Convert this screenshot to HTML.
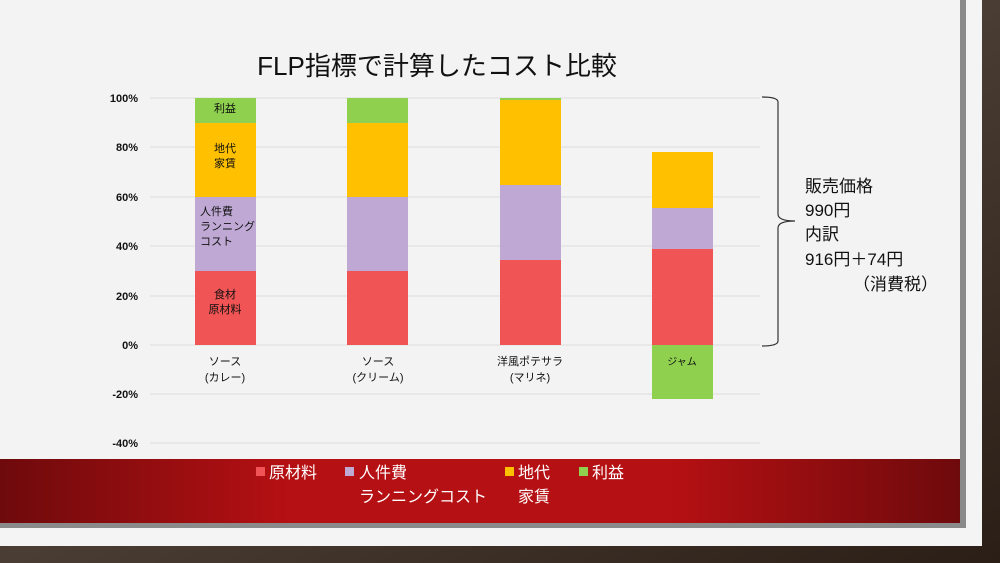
<!DOCTYPE html>
<html><head><meta charset="utf-8"><style>
html,body{margin:0;padding:0;width:1000px;height:563px;overflow:hidden;background:#3a2a22}
body{font-family:"Liberation Sans","Noto Sans CJK JP",sans-serif}
</style></head><body>
<svg width="1000" height="563" xmlns="http://www.w3.org/2000/svg" font-family="Liberation Sans, Noto Sans CJK JP, sans-serif">
<defs>
<linearGradient id="red" x1="0" x2="1"><stop offset="0" stop-color="#6e0a0c"/><stop offset="0.3" stop-color="#b51013"/><stop offset="0.7" stop-color="#b51013"/><stop offset="1" stop-color="#6e0a0c"/></linearGradient>
<linearGradient id="brick" x1="0" y1="0" x2="1" y2="1"><stop offset="0" stop-color="#2a1e18"/><stop offset="0.5" stop-color="#4a3e34"/><stop offset="1" stop-color="#2a1e16"/></linearGradient>
</defs>
<rect width="1000" height="563" fill="url(#brick)"/>
<rect x="0" y="0" width="982" height="546" fill="#f4f4f4"/>
<rect x="0" y="0" width="966" height="528" fill="#8a8a8a"/>
<rect x="0" y="0" width="960" height="523" fill="#f3f3f3"/>
<rect x="0" y="459" width="960" height="64" fill="url(#red)"/>
<text x="437" y="75" font-size="26" text-anchor="middle" fill="#111">FLP指標で計算したコスト比較</text>
<g stroke="#dcdcdc" stroke-width="1">
<line x1="150" x2="760" y1="98" y2="98"/><line x1="150" x2="760" y1="147" y2="147"/><line x1="150" x2="760" y1="197" y2="197"/><line x1="150" x2="760" y1="246" y2="246"/><line x1="150" x2="760" y1="296" y2="296"/><line x1="150" x2="760" y1="345" y2="345"/><line x1="150" x2="760" y1="394" y2="394"/><line x1="150" x2="760" y1="443" y2="443"/>
</g>
<g font-size="11" font-weight="bold" text-anchor="end" fill="#111">
<text x="138" y="102">100%</text><text x="138" y="151">80%</text><text x="138" y="201">60%</text><text x="138" y="250">40%</text><text x="138" y="300">20%</text><text x="138" y="349">0%</text><text x="138" y="398">-20%</text><text x="138" y="447">-40%</text>
</g>
<rect x="195" y="271" width="61" height="74" fill="#f15454"/>
<rect x="195" y="197" width="61" height="74" fill="#bfa9d4"/>
<rect x="195" y="123" width="61" height="74" fill="#ffc000"/>
<rect x="195" y="98" width="61" height="25" fill="#8fd14f"/>
<rect x="347" y="271" width="61" height="74" fill="#f15454"/>
<rect x="347" y="197" width="61" height="74" fill="#bfa9d4"/>
<rect x="347" y="123" width="61" height="74" fill="#ffc000"/>
<rect x="347" y="98" width="61" height="25" fill="#8fd14f"/>
<rect x="500" y="260" width="61" height="85" fill="#f15454"/>
<rect x="500" y="185" width="61" height="75" fill="#bfa9d4"/>
<rect x="500" y="100" width="61" height="85" fill="#ffc000"/>
<rect x="500" y="98" width="61" height="2" fill="#8fd14f"/>
<rect x="652" y="249" width="61" height="96" fill="#f15454"/>
<rect x="652" y="208" width="61" height="41" fill="#bfa9d4"/>
<rect x="652" y="152" width="61" height="56" fill="#ffc000"/>
<rect x="652" y="345" width="61" height="54" fill="#8fd14f"/>
<g font-size="11" fill="#111" text-anchor="middle">
<text x="225" y="112">利益</text>
<text x="225" y="152">地代</text><text x="225" y="167">家賃</text>
<text x="200" y="215" text-anchor="start">人件費</text><text x="200" y="230" text-anchor="start">ランニング</text><text x="200" y="245" text-anchor="start">コスト</text>
<text x="225" y="298">食材</text><text x="225" y="313">原材料</text>
<text x="682" y="365" font-size="10">ジャム</text>
<text x="225" y="365">ソース</text><text x="225" y="381">(カレー)</text>
<text x="378" y="365">ソース</text><text x="378" y="381">(クリーム)</text>
<text x="530" y="365">洋風ポテサラ</text><text x="530" y="381">(マリネ)</text>
</g>
<path d="M762 97 Q778 97 778 102 L778 214 Q778 221 795 221 Q778 221 778 228 L778 341 Q778 346 762 346" fill="none" stroke="#333" stroke-width="1.2"/>
<g font-size="17" fill="#111">
<text x="805" y="192">販売価格</text><text x="805" y="216">990円</text><text x="805" y="240">内訳</text><text x="805" y="265">916円＋74円</text><text x="853" y="290">（消費税）</text>
</g>
<g font-size="16" fill="#fff">
<rect x="256" y="467" width="9" height="9" fill="#f15454"/><text x="269" y="478">原材料</text>
<rect x="345" y="467" width="9" height="9" fill="#bfa9d4"/><text x="359" y="478">人件費</text>
<text x="359" y="502">ランニングコスト</text>
<rect x="505" y="467" width="9" height="9" fill="#ffc000"/><text x="518" y="478">地代</text>
<text x="518" y="502">家賃</text>
<rect x="579" y="467" width="9" height="9" fill="#8fd14f"/><text x="592" y="478">利益</text>
</g>
</svg>
</body></html>
